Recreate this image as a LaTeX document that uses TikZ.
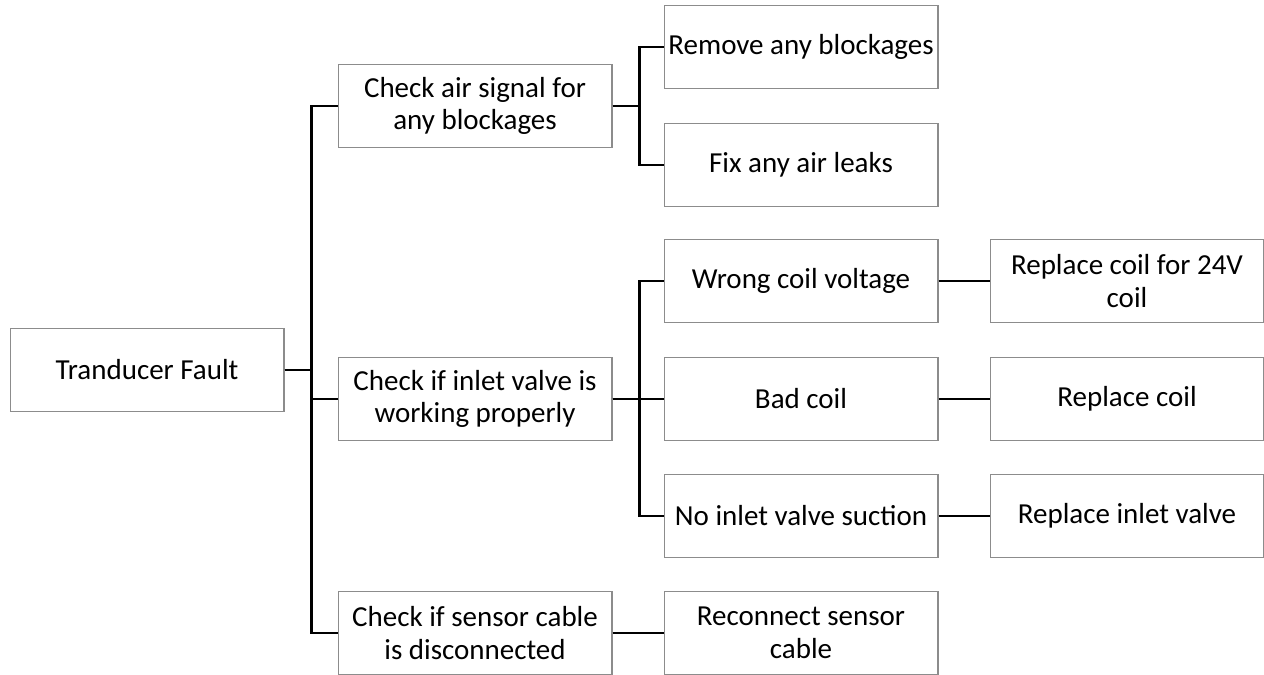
\documentclass[tikz,border=0pt]{standalone}
\usepackage{fontspec}
\setmainfont{Carlito}
\definecolor{boxline}{RGB}{140,140,140}
\tikzset{
  box/.style={draw=boxline,line width=.6pt,fill=white,minimum width=5.48cm,
    minimum height=1.66cm,inner sep=0pt,align=center,
    font=\fontsize{16.5}{18.6}\selectfont},
  wire/.style={line width=1.7pt}
}
\begin{document}
\begin{tikzpicture}[x=0.02cm,y=-0.02cm]
      \useasboundingbox (0,0) rectangle (1264,675);
      % columns at 147, 475, 801, 1127
      \node[box] (fault) at (147,370) {Tranducer Fault};
      \foreach \n/\y/\t in{air/106/{Check air signal for\\any blockages},
                           inlet/399/{Check if inlet valve is\\working properly},
                           sensor/633/{Check if sensor cable\\is disconnected}}{
        \node[box] (\n) at (475,\y) {\t};
      }
      \foreach \n/\y/\t in{remove/47/Remove any blockages, leak/165/Fix any air leaks,
                           wrong/281/Wrong coil voltage, bad/399/Bad coil,
                           suction/516/No inlet valve suction,
                           reconnect/633/{Reconnect sensor\\cable}}{
        \node[box] (\n) at (801,\y) {\t};
      }
      \foreach \n/\y/\t in{volt/281/{Replace coil for 24V\\coil}, coil/399/Replace coil,
                           valve/516/Replace inlet valve}{
        \node[box] (\n) at (1127,\y) {\t};
      }
      \foreach \c in{air,inlet,sensor}{
        \draw[wire](fault.east)--++(27,0)|-(\c.west);
      }
      \foreach \c in{remove,leak}{
        \draw[wire](air.east)--++(27,0)|-(\c.west);
      }
      \foreach \c in{wrong,bad,suction}{
        \draw[wire](inlet.east)--++(27,0)|-(\c.west);
      }
      \draw[wire](sensor)--(reconnect) (wrong)--(volt) (bad)--(coil) (suction)--(valve);
    \end{tikzpicture}
\end{document}
